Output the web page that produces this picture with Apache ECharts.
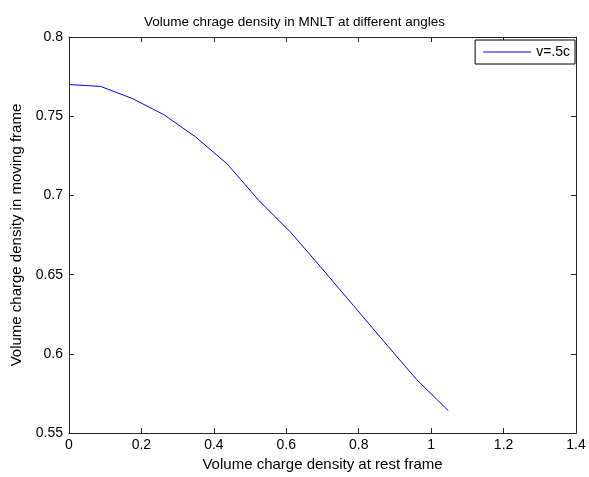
<!DOCTYPE html>
<html>
<head>
<meta charset="utf-8">
<script src="https://cdn.jsdelivr.net/npm/echarts@6/dist/echarts.min.js"></script>
<style>
  html, body { margin: 0; padding: 0; background: #fff; }
  #paint { width: 589px; height: 477px; }
</style>
</head>
<body>
<div id="paint"></div>
<script>
// angle in rad (5 degree steps up to pi/3)
var angle = [0, 0.0873, 0.1745, 0.2618, 0.3491, 0.4363, 0.5236, 0.6109, 0.6981, 0.7854, 0.8727, 0.9599, 1.0472];
var density = [0.770, 0.7688, 0.7612, 0.7510, 0.7370, 0.7200, 0.6970, 0.6770, 0.6540, 0.6305, 0.6070, 0.5838, 0.5642];
var seriesName = 'v=.5c';

var pts = [];
for (var i = 0; i < angle.length; i++) {
    pts.push([angle[i], density[i]]);
}

var font = 'Liberation Sans, Arial, sans-serif';
var axisCol = '#262626';

function fmtX(v) { return (Math.round(v * 10) / 10).toString(); }
function fmtY(v) { return (Math.round(v * 100) / 100).toString(); }

var chart = echarts.init(document.getElementById('paint'));
var option = {
    animation: false,
    title: {
        text: 'Volume chrage density in MNLT at different angles',
        left: 'center',
        top: 10,
        textStyle: { fontFamily: font, fontSize: 13.5, fontWeight: 'normal', color: '#000' }
    },
    legend: {
        data: [seriesName],
        right: 14,
        top: 40,
        orient: 'vertical',
        borderColor: '#000',
        borderWidth: 1,
        backgroundColor: '#fff',
        padding: [5, 5, 5, 8],
        itemWidth: 48,
        itemHeight: 1,
        itemGap: 4,
        icon: 'rect',
        textStyle: { fontFamily: font, fontSize: 14, color: '#000' }
    },
    grid: { left: 69, right: 13, top: 37, bottom: 40 },
    xAxis: [{
        type: 'value',
        min: 0, max: 1.4, interval: 0.2,
        name: 'Volume charge density at rest frame',
        nameLocation: 'middle',
        nameGap: 23,
        nameTextStyle: { fontFamily: font, fontSize: 15, color: '#000' },
        axisLine: { onZero: false, lineStyle: { color: axisCol, width: 1 } },
        axisTick: { inside: true, length: 5, lineStyle: { color: axisCol } },
        axisLabel: { fontFamily: font, fontSize: 14, color: '#000', margin: 5, formatter: fmtX, showMaxLabel: true },
        splitLine: { show: false }
    }, {
        type: 'value',
        position: 'top',
        min: 0, max: 1.4, interval: 0.2,
        axisLine: { onZero: false, lineStyle: { color: axisCol, width: 1 } },
        axisTick: { inside: true, length: 5, lineStyle: { color: axisCol } },
        axisLabel: { show: false },
        splitLine: { show: false }
    }],
    yAxis: [{
        type: 'value',
        min: 0.55, max: 0.8, interval: 0.05,
        name: 'Volume charge density in moving frame',
        nameLocation: 'middle',
        nameGap: 42,
        nameTextStyle: { fontFamily: font, fontSize: 15, color: '#000' },
        axisLine: { show: true, onZero: false, lineStyle: { color: axisCol, width: 1 } },
        axisTick: { show: true, inside: true, length: 5, lineStyle: { color: axisCol } },
        axisLabel: { fontFamily: font, fontSize: 14, color: '#000', margin: 6, formatter: fmtY },
        splitLine: { show: false }
    }, {
        type: 'value',
        position: 'right',
        min: 0.55, max: 0.8, interval: 0.05,
        axisLine: { show: true, onZero: false, lineStyle: { color: axisCol, width: 1 } },
        axisTick: { show: true, inside: true, length: 5, lineStyle: { color: axisCol } },
        axisLabel: { show: false },
        splitLine: { show: false }
    }],
    series: [{
        name: seriesName,
        type: 'line',
        xAxisIndex: 0,
        yAxisIndex: 0,
        data: pts,
        showSymbol: false,
        symbol: 'none',
        lineStyle: { color: '#0000ff', width: 1 },
        itemStyle: { color: '#0000ff' }
    }]
};
chart.setOption(option);
</script>
</body>
</html>
